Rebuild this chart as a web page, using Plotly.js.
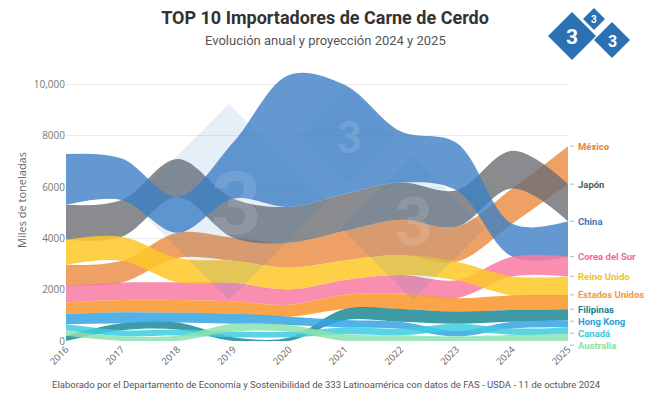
<!DOCTYPE html>
<html>
<head>
<meta charset="utf-8">
<script src="https://cdn.plot.ly/plotly-3.0.1.min.js"></script>
<style>
  html, body { margin: 0; padding: 0; background: #ffffff; }
  #chart { width: 650px; height: 397px; }
</style>
</head>
<body>
<div id="chart"></div>
<script>
// Años y etiquetas de ejes
const years = [2016, 2017, 2018, 2019, 2020, 2021, 2022, 2023, 2024, 2025];
const yearLabels = years.map(String);
const yTickVals = [0, 2000, 4000, 6000, 8000, 10000];
const yTickText = ['0', '2000', '4000', '6000', '8000', '10,000'];

// Importaciones de carne de cerdo (miles de toneladas)
const countries = ['México', 'Japón', 'China', 'Corea del Sur', 'Reino Unido',
                   'Estados Unidos', 'Filipinas', 'Hong Kong', 'Canadá', 'Australia'];
const mexico        = [820, 850, 980, 900, 970, 1150, 1380, 1370, 1380, 1480];
const japon         = [1360, 1430, 1480, 1520, 1400, 1450, 1450, 1420, 1470, 1450];
const china         = [1980, 1620, 1400, 2200, 5150, 4250, 2000, 1850, 1280, 1380];
const coreaDelSur   = [650, 680, 690, 720, 600, 580, 720, 700, 770, 770];
const reinoUnido    = [980, 940, 950, 860, 850, 760, 780, 720, 740, 720];
const estadosUnidos = [440, 480, 500, 480, 460, 550, 600, 520, 570, 560];
const filipinas     = [200, 270, 270, 150, 140, 430, 500, 480, 460, 430];
const hongKong      = [400, 430, 380, 400, 330, 290, 270, 220, 260, 280];
const canada        = [240, 230, 240, 220, 220, 270, 260, 270, 250, 270];
const australia     = [220, 190, 210, 300, 260, 260, 220, 180, 240, 260];

const series = [mexico, japon, china, coreaDelSur, reinoUnido,
                estadosUnidos, filipinas, hongKong, canada, australia];

const fillColors = [
  'rgba(234,130,52,0.76)',   // México
  'rgba(108,110,115,0.80)',  // Japón
  'rgba(60,128,196,0.80)',   // China
  'rgba(248,122,162,0.85)',  // Corea del Sur
  'rgba(253,200,40,0.85)',   // Reino Unido
  'rgba(251,152,50,0.88)',   // Estados Unidos
  'rgba(28,138,150,0.85)',   // Filipinas
  'rgba(50,165,228,0.85)',   // Hong Kong
  'rgba(60,205,225,0.85)',   // Canadá
  'rgba(140,226,175,0.85)'   // Australia
];
const labelColors = ['#e8823c', '#555a60', '#3a78b6', '#f06d98', '#f2c21c',
                     '#f5983a', '#1e7d8a', '#2b9fd8', '#3cc8dc', '#8ee0aa'];

// Apilado por ranking: en cada año el mayor importador queda arriba
const bottoms = series.map(() => []);
const tops = series.map(() => []);
years.forEach((_, j) => {
  const order = series.map((_, i) => i).sort((a, b) => series[a][j] - series[b][j]);
  let acc = 0;
  order.forEach(i => {
    bottoms[i][j] = acc;
    acc += series[i][j];
    tops[i][j] = acc;
  });
});

const traces = [];
series.forEach((s, i) => {
  traces.push({
    x: years, y: bottoms[i], mode: 'lines', type: 'scatter',
    line: { width: 0, shape: 'spline', smoothing: 1 },
    hoverinfo: 'skip', showlegend: false
  });
  traces.push({
    x: years, y: tops[i], mode: 'lines', type: 'scatter', name: countries[i],
    fill: 'tonexty', fillcolor: fillColors[i],
    line: { width: 0, shape: 'spline', smoothing: 1 },
    hoverinfo: 'skip', showlegend: false
  });
});

// Geometría del área de trazado (px)
const W = 650, H = 397;
const M = { l: 66, r: 82, t: 59, b: 56 };
const PW = W - M.l - M.r, PH = H - M.t - M.b;
const Y_MAX = 11000;
const px2x = px => (px - M.l) / PW;
const px2y = py => (H - M.b - py) / PH;

// Etiquetas de países a la derecha, separadas al menos 12 px
const last = years.length - 1;
const minGap = 12 * Y_MAX / PH;
const labelOrder = series.map((_, i) => i).sort((a, b) => tops[b][last] - tops[a][last]);
const labelY = {};
let prev = Infinity;
labelOrder.forEach(i => {
  const y = Math.min(tops[i][last], prev - minGap);
  labelY[i] = y;
  prev = y;
});

const annotations = [];
const shapes = [];
labelOrder.forEach(i => {
  const yp = labelY[i] / Y_MAX;
  annotations.push({
    xref: 'paper', yref: 'paper', x: px2x(576), y: yp,
    xanchor: 'left', yanchor: 'middle', showarrow: false,
    text: '<b>' + countries[i] + '</b>',
    font: { family: 'Roboto, sans-serif', size: 9.5, color: labelColors[i] }
  });
  shapes.push({
    type: 'line', xref: 'paper', yref: 'paper',
    x0: px2x(570), x1: px2x(574), y0: yp, y1: yp,
    line: { color: '#b8b8b8', width: 1 }
  });
});

// Logotipo 333 (rombos)
function diamond(cx, cy, h, color) {
  const p = [[cx, cy - h], [cx + h, cy], [cx, cy + h], [cx - h, cy]]
    .map(([x, y]) => px2x(x).toFixed(4) + ',' + px2y(y).toFixed(4));
  return {
    type: 'path', xref: 'paper', yref: 'paper', layer: 'above',
    path: 'M' + p.join(' L') + ' Z',
    fillcolor: color, line: { width: 0 }
  };
}
function digit(cx, cy, size, color) {
  return {
    xref: 'paper', yref: 'paper', x: px2x(cx), y: px2y(cy),
    xanchor: 'center', yanchor: 'middle', showarrow: false,
    text: '<b>3</b>', font: { family: 'Roboto, sans-serif', size: size, color: color }
  };
}
const logoBlue = '#2b70b3';
shapes.push(diamond(572, 36, 24, logoBlue));
shapes.push(diamond(594, 19, 11, logoBlue));
shapes.push(diamond(612, 40, 18, logoBlue));
annotations.push(digit(572, 37, 21, '#ffffff'));
annotations.push(digit(594, 20, 10, '#ffffff'));
annotations.push(digit(612, 41, 16, '#ffffff'));

// Marca de agua dentro del gráfico
const wmFill = 'rgba(60,125,190,0.13)';
const wmDigit = 'rgba(255,255,255,0.12)';
shapes.push(diamond(229, 202, 98, wmFill));
shapes.push(diamond(347, 136, 48, wmFill));
shapes.push(diamond(413, 228, 72, wmFill));
annotations.push(digit(236, 203, 88, wmDigit));
annotations.push(digit(349, 138, 44, wmDigit));
annotations.push(digit(414, 222, 66, wmDigit));

// Subtítulo y fuente
annotations.push({
  xref: 'paper', yref: 'paper', x: px2x(325), y: px2y(40),
  xanchor: 'center', yanchor: 'middle', showarrow: false,
  text: 'Evolución anual y proyección 2024 y 2025',
  font: { family: 'Roboto, sans-serif', size: 13, color: '#555555' }
});
annotations.push({
  xref: 'paper', yref: 'paper', x: px2x(326), y: px2y(384),
  xanchor: 'center', yanchor: 'middle', showarrow: false,
  text: 'Elaborado por el Departamento de Economía y Sostenibilidad de 333 Latinoamérica con datos de FAS - USDA - 11 de octubre 2024',
  font: { family: 'Roboto, sans-serif', size: 9.5, color: '#555555' }
});

const layout = {
  width: W, height: H,
  margin: M,
  paper_bgcolor: '#ffffff', plot_bgcolor: '#ffffff',
  showlegend: false, hovermode: false,
  title: {
    text: '<b>TOP 10 Importadores de Carne de Cerdo</b>',
    xref: 'container', yref: 'container', x: 0.5, y: 1 - 18 / H,
    xanchor: 'center', yanchor: 'middle',
    font: { family: 'Roboto, sans-serif', size: 18, color: '#333333' }
  },
  xaxis: {
    range: [years[0], years[last]],
    tickmode: 'array', tickvals: years, ticktext: yearLabels,
    tickangle: -45, showgrid: false, zeroline: false, showline: false,
    ticks: '', tickfont: { family: 'Open Sans, sans-serif', size: 9.5, color: '#666666' }
  },
  yaxis: {
    range: [0, Y_MAX],
    tickmode: 'array', tickvals: yTickVals, ticktext: yTickText,
    showgrid: true, gridcolor: '#ececec', gridwidth: 1,
    zeroline: false, showline: false, ticks: '',
    tickfont: { family: 'Open Sans, sans-serif', size: 10, color: '#777777' },
    title: { text: 'Miles de toneladas', standoff: 4,
             font: { family: 'Open Sans, sans-serif', size: 11, color: '#666666' } }
  },
  shapes: shapes,
  annotations: annotations
};

Plotly.newPlot('chart', traces, layout, { staticPlot: true, displayModeBar: false });
</script>
</body>
</html>
